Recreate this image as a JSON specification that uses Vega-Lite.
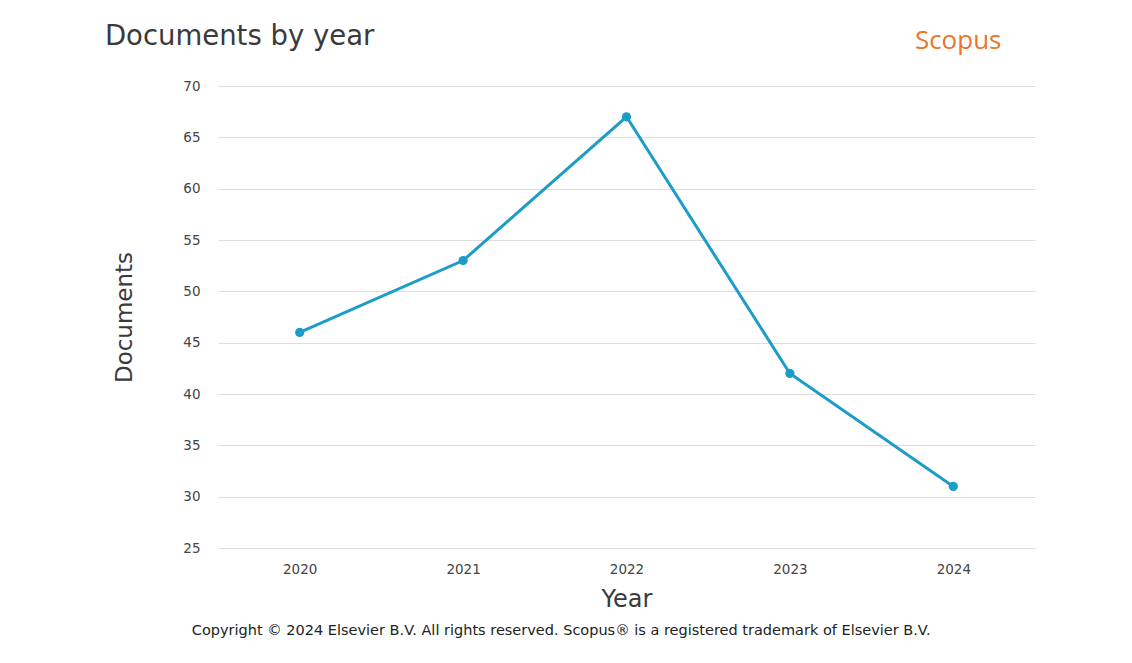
{
  "$schema": "https://vega.github.io/schema/vega-lite/v6.json",
  "width": 817,
  "height": 462,
  "autosize": {"type": "none"},
  "padding": {"left": 218, "top": 86, "right": 97, "bottom": 115},
  "background": "white",
  "config": {
    "view": {"stroke": null},
    "font": "DejaVu Sans"
  },
  "datasets": {
    "docs": [
      {"Year": 2020, "Documents": 46},
      {"Year": 2021, "Documents": 53},
      {"Year": 2022, "Documents": 67},
      {"Year": 2023, "Documents": 42},
      {"Year": 2024, "Documents": 31}
    ],
    "notes": [
      {"Year": 2018.808, "Documents": 74.75, "label": "Documents by year", "kind": "title"},
      {"Year": 2024.03, "Documents": 74.4, "label": "Scopus", "kind": "brand"},
      {"Year": 2021.6, "Documents": 16.9, "label": "Copyright © 2024 Elsevier B.V. All rights reserved. Scopus® is a registered trademark of Elsevier B.V.", "kind": "copy"}
    ]
  },
  "layer": [
    {
      "data": {"name": "docs"},
      "mark": {"type": "line", "color": "#1b9dc8", "strokeWidth": 3},
      "encoding": {
        "x": {
          "field": "Year",
          "type": "quantitative",
          "scale": {"domain": [2019.5, 2024.5], "nice": false, "zero": false},
          "axis": {
            "values": [2020, 2021, 2022, 2023, 2024],
            "format": "d",
            "grid": false,
            "domain": false,
            "ticks": false,
            "labelFont": "DejaVu Sans",
            "labelFontSize": 13.5,
            "labelColor": "#444444",
            "labelPadding": 14,
            "title": "Year",
            "titleFont": "DejaVu Sans",
            "titleFontSize": 24,
            "titleFontWeight": "normal",
            "titleColor": "#3a3a3a",
            "titlePadding": 12
          }
        },
        "y": {
          "field": "Documents",
          "type": "quantitative",
          "scale": {"domain": [25, 70], "nice": false, "zero": false},
          "axis": {
            "values": [25, 30, 35, 40, 45, 50, 55, 60, 65, 70],
            "grid": true,
            "gridColor": "#dedede",
            "gridWidth": 1,
            "domain": false,
            "ticks": false,
            "labelFont": "DejaVu Sans",
            "labelFontSize": 13.5,
            "labelColor": "#444444",
            "labelPadding": 18,
            "title": "Documents",
            "titleFont": "DejaVu Sans",
            "titleFontSize": 23,
            "titleFontWeight": "normal",
            "titleColor": "#3a3a3a",
            "titlePadding": 46
          }
        }
      }
    },
    {
      "data": {"name": "docs"},
      "mark": {"type": "circle", "color": "#1b9dc8", "size": 85, "opacity": 1},
      "encoding": {
        "x": {"field": "Year", "type": "quantitative"},
        "y": {"field": "Documents", "type": "quantitative"}
      }
    },
    {
      "data": {"name": "notes"},
      "transform": [{"filter": "datum.kind === 'title'"}],
      "mark": {"type": "text", "font": "DejaVu Sans", "fontSize": 27.5, "color": "#3a3a3a", "align": "left", "baseline": "middle", "clip": false},
      "encoding": {
        "x": {"field": "Year", "type": "quantitative"},
        "y": {"field": "Documents", "type": "quantitative"},
        "text": {"field": "label"}
      }
    },
    {
      "data": {"name": "notes"},
      "transform": [{"filter": "datum.kind === 'brand'"}],
      "mark": {"type": "text", "font": "Open Sans", "fontSize": 26, "color": "#e8762b", "align": "center", "baseline": "middle", "clip": false},
      "encoding": {
        "x": {"field": "Year", "type": "quantitative"},
        "y": {"field": "Documents", "type": "quantitative"},
        "text": {"field": "label"}
      }
    },
    {
      "data": {"name": "notes"},
      "transform": [{"filter": "datum.kind === 'copy'"}],
      "mark": {"type": "text", "font": "DejaVu Sans", "fontSize": 14.5, "color": "#222222", "align": "center", "baseline": "middle", "clip": false},
      "encoding": {
        "x": {"field": "Year", "type": "quantitative"},
        "y": {"field": "Documents", "type": "quantitative"},
        "text": {"field": "label"}
      }
    }
  ]
}
